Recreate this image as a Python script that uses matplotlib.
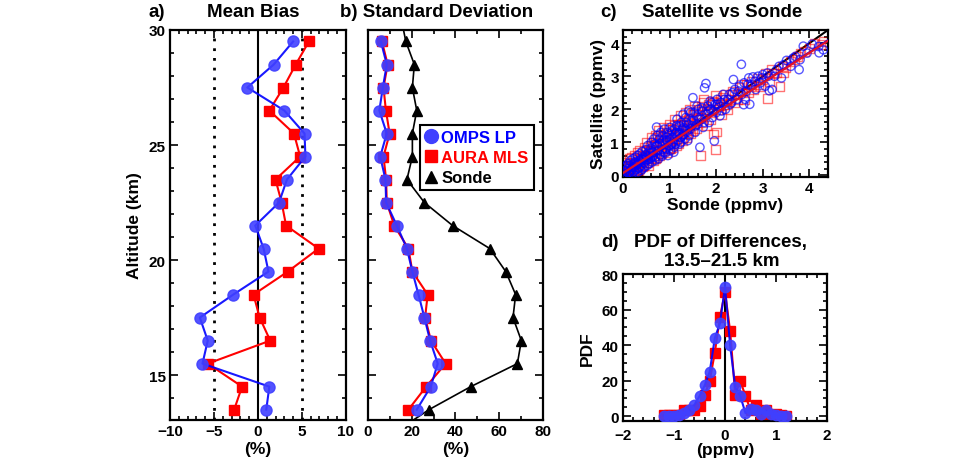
import matplotlib
matplotlib.use("Agg")
import matplotlib.pyplot as plt
from matplotlib.lines import Line2D
from matplotlib.ticker import MultipleLocator

plt.rcParams["font.family"] = ["Liberation Sans", "DejaVu Sans"]
plt.rcParams["font.weight"] = "bold"
plt.rcParams["axes.labelweight"] = "bold"

# profile panels (a, b)
altitude = [29.5, 28.5, 27.5, 26.5, 25.5, 24.5, 23.5, 22.5, 21.5,
            20.5, 19.5, 18.5, 17.5, 16.5, 15.5, 14.5, 13.5]
omps_bias = [4.0, 1.8, -1.2, 3.0, 5.3, 5.4, 3.3, 2.4, -0.3,
             0.65, 1.2, -2.8, -6.6, -5.7, -6.3, 1.3, 0.95]
mls_bias = [5.8, 4.3, 2.9, 1.3, 4.1, 4.8, 2.0, 2.7, 3.2,
            6.9, 3.4, -0.5, 0.2, 1.4, -5.7, -1.8, -2.7]
omps_sd = [5.9, 8.6, 6.8, 5.2, 8.6, 5.6, 8.0, 8.3, 13.2,
           17.8, 20.3, 23.1, 25.8, 28.4, 31.9, 28.7, 22.3]
mls_sd = [6.4, 9.0, 7.1, 8.2, 9.9, 7.1, 8.3, 8.6, 12.0,
          18.5, 20.3, 27.3, 26.1, 28.8, 35.5, 26.6, 18.5]
sonde_altitude = [30.5] + altitude + [12.5]
sonde_sd = [15.2, 17.3, 21.2, 20.3, 22.3, 20.3, 20.3, 17.8, 25.8, 38.7,
            55.7, 63.0, 67.5, 66.3, 70.1, 68.3, 47.0, 27.9, 12.1]

# scatter panel (c): (sonde, satellite) pairs in ppmv
omps_points = [
    (0.02, 0.05), (0.05, 0.12), (0.08, 0.02), (0.1, 0.2), (0.12, 0.08), (0.15, 0.3), (0.18, 0.15),
    (0.2, 0.05), (0.22, 0.25), (0.25, 0.4), (0.28, 0.18), (0.3, 0.32), (0.32, 0.1), (0.35, 0.45),
    (0.38, 0.28), (0.4, 0.5), (0.42, 0.2), (0.45, 0.38), (0.48, 0.62), (0.5, 0.45), (0.52, 0.3),
    (0.55, 0.7), (0.58, 0.5), (0.6, 0.82), (0.62, 0.4), (0.65, 0.6), (0.68, 0.95), (0.7, 0.55),
    (0.72, 1.46), (0.75, 0.75), (0.78, 1.1), (0.8, 0.62), (0.82, 0.9), (0.85, 1.2), (0.88, 0.7),
    (0.9, 1.0), (0.92, 0.8), (0.95, 1.3), (0.98, 0.9), (1.0, 1.1), (1.02, 0.75), (1.05, 1.35),
    (1.08, 1.0), (1.1, 0.85), (1.12, 1.25), (1.15, 1.5), (1.18, 1.05), (1.2, 1.3), (1.22, 0.95),
    (1.25, 1.6), (1.28, 1.2), (1.3, 1.45), (1.33, 1.1), (1.35, 1.75), (1.38, 1.35), (1.4, 1.55),
    (1.42, 1.2), (1.45, 1.9), (1.48, 1.5), (1.5, 2.35), (1.52, 1.65), (1.55, 1.3), (1.58, 1.8),
    (1.6, 1.55), (1.62, 2.0), (1.65, 0.85), (1.68, 1.7), (1.7, 1.95), (1.72, 1.45), (1.75, 2.65),
    (1.78, 2.78), (1.8, 1.85), (1.82, 2.1), (1.85, 1.6), (1.88, 2.0), (1.9, 2.2), (1.92, 1.75),
    (1.96, 1.04), (1.98, 2.15), (2.0, 1.9), (2.02, 2.3), (2.05, 2.05), (2.08, 1.8), (2.1, 2.2),
    (2.15, 2.45), (2.2, 2.0), (2.25, 2.3), (2.3, 2.15), (2.35, 2.5), (2.37, 2.9), (2.4, 2.6),
    (2.45, 2.3), (2.5, 2.7), (2.54, 3.36), (2.55, 2.45), (2.59, 2.14), (2.6, 2.8), (2.65, 2.55),
    (2.7, 2.95), (2.72, 2.15), (2.75, 2.7), (2.79, 2.98), (2.85, 2.6), (2.9, 3.0), (2.95, 2.8),
    (3.0, 3.05), (3.05, 2.7), (3.1, 3.1), (3.14, 2.56), (3.2, 2.6), (3.25, 3.0), (3.3, 3.2),
    (3.35, 3.3), (3.4, 2.95), (3.45, 3.35), (3.51, 3.48), (3.6, 3.3), (3.65, 3.55), (3.7, 3.6),
    (3.78, 3.2), (3.8, 3.5), (3.87, 3.91), (3.95, 3.7), (4.06, 3.97), (4.2, 3.9), (4.21, 3.71),
    (4.3, 3.8), (0.06, 0.15), (0.14, 0.1), (0.24, 0.35), (0.34, 0.22), (0.44, 0.55), (0.54, 0.48),
    (0.64, 0.7), (0.74, 0.9), (0.84, 0.78), (0.94, 1.05), (1.04, 0.95), (1.14, 1.3), (1.24, 1.15),
    (1.34, 1.4), (0.03, 0.25), (0.07, 0.3), (0.11, 0.35), (0.13, 0.02), (0.16, 0.45), (0.19, 0.22),
    (0.21, 0.5), (0.24, 0.12), (0.27, 0.55), (0.29, 0.38), (0.31, 0.6), (0.33, 0.22), (0.36, 0.65),
    (0.39, 0.15), (0.41, 0.72), (0.43, 0.48), (0.46, 0.25), (0.49, 0.78), (0.51, 0.58), (0.53, 0.9),
    (0.56, 0.35), (0.59, 0.68), (0.61, 1.0), (0.63, 0.55), (0.66, 1.1), (0.69, 0.45), (0.71, 0.88),
    (0.73, 1.2), (0.76, 0.5), (0.79, 0.95), (0.81, 1.3), (0.83, 0.58), (0.86, 1.05), (0.89, 1.4),
    (0.91, 0.68), (0.93, 1.15), (0.96, 0.6), (0.99, 1.25), (1.01, 1.45), (1.03, 0.9), (1.06, 1.15),
    (1.09, 0.7), (1.11, 1.4), (1.13, 0.95), (1.16, 1.7), (1.19, 1.25), (1.21, 1.5), (1.24, 1.0),
    (1.27, 1.4), (1.29, 1.85), (1.31, 1.25), (1.36, 1.6), (1.39, 1.05), (1.41, 1.95), (1.44, 1.4),
    (1.47, 1.65), (1.53, 1.9), (1.56, 1.5), (1.59, 2.1), (1.63, 1.7), (1.69, 2.05), (1.74, 1.6),
    (1.83, 1.95), (1.87, 2.25), (1.93, 1.95), (2.03, 2.15), (2.12, 1.95), (2.18, 2.3), (2.28, 2.45),
    (2.33, 2.2), (2.48, 2.55), (2.62, 2.3), (2.68, 2.75), (2.83, 2.85), (2.98, 2.95), (3.12, 3.0),
]
mls_points = [
    (0.03, 0.08), (0.06, 0.2), (0.09, 0.05), (0.12, 0.15), (0.14, 0.35), (0.17, 0.1), (0.2, 0.25),
    (0.23, 0.4), (0.26, 0.12), (0.29, 0.3), (0.32, 0.5), (0.35, 0.2), (0.38, 0.4), (0.41, 0.6),
    (0.44, 0.3), (0.47, 0.5), (0.5, 0.75), (0.53, 0.4), (0.56, 0.6), (0.59, 0.9), (0.62, 0.5),
    (0.65, 1.0), (0.68, 0.7), (0.71, 0.55), (0.74, 1.15), (0.77, 0.8), (0.8, 1.05), (0.83, 0.65),
    (0.86, 1.25), (0.89, 0.9), (0.92, 1.1), (0.95, 0.7), (0.98, 1.4), (1.01, 1.0), (1.04, 1.2),
    (1.07, 0.85), (1.1, 1.5), (1.13, 1.1), (1.16, 1.3), (1.19, 0.95), (1.22, 1.55), (1.25, 1.25),
    (1.28, 1.05), (1.31, 1.65), (1.34, 1.35), (1.37, 1.15), (1.4, 1.7), (1.43, 1.45), (1.46, 1.25),
    (1.49, 1.85), (1.52, 1.55), (1.55, 1.95), (1.58, 1.4), (1.61, 1.75), (1.66, 0.61), (1.68, 2.1),
    (1.7, 1.6), (1.73, 2.2), (1.76, 1.85), (1.8, 1.5), (1.84, 2.0), (1.88, 1.7), (1.92, 2.25),
    (1.95, 1.25), (1.98, 0.78), (1.99, 2.42), (2.01, 1.31), (2.04, 2.0), (2.08, 2.3), (2.12, 1.85),
    (2.16, 2.15), (2.2, 2.45), (2.25, 2.0), (2.3, 2.3), (2.35, 2.55), (2.4, 2.2), (2.45, 2.45),
    (2.5, 2.65), (2.57, 2.52), (2.6, 2.3), (2.65, 2.75), (2.7, 2.5), (2.75, 2.85), (2.8, 2.6),
    (2.88, 2.95), (2.95, 2.7), (3.0, 2.9), (3.05, 3.1), (3.1, 2.32), (3.15, 2.85), (3.23, 3.08),
    (3.3, 3.1), (3.37, 2.68), (3.42, 3.3), (3.5, 3.25), (3.6, 3.45), (3.68, 3.5), (3.75, 3.6),
    (3.8, 3.7), (3.9, 3.75), (4.0, 3.85), (4.1, 4.0), (4.25, 3.95), (4.3, 4.05), (0.1, 0.02),
    (0.2, 0.28), (0.3, 0.18), (0.4, 0.45), (0.5, 0.38), (0.6, 0.72), (0.7, 0.52), (0.85, 0.98),
    (1.0, 0.82), (0.02, 0.3), (0.05, 0.02), (0.08, 0.38), (0.11, 0.28), (0.13, 0.5), (0.16, 0.22),
    (0.19, 0.55), (0.22, 0.05), (0.24, 0.6), (0.27, 0.35), (0.3, 0.7), (0.33, 0.15), (0.36, 0.75),
    (0.39, 0.55), (0.42, 0.25), (0.45, 0.85), (0.48, 0.6), (0.51, 1.0), (0.54, 0.3), (0.57, 0.8),
    (0.6, 1.15), (0.63, 0.75), (0.66, 0.45), (0.69, 1.2), (0.72, 0.9), (0.75, 1.35), (0.78, 0.6),
    (0.81, 1.2), (0.84, 0.95), (0.87, 1.45), (0.9, 0.75), (0.93, 1.3), (0.96, 1.05), (0.99, 1.55),
    (1.02, 0.8), (1.05, 1.4), (1.08, 1.2), (1.11, 1.7), (1.14, 0.9), (1.17, 1.55), (1.2, 1.35),
    (1.23, 1.8), (1.26, 1.1), (1.3, 1.5), (1.33, 1.9), (1.36, 1.5), (1.39, 1.25), (1.42, 2.0),
    (1.45, 1.6), (1.5, 1.35), (1.54, 2.1), (1.57, 1.7), (1.62, 2.0), (1.67, 1.75), (1.72, 2.3),
    (1.78, 1.95), (1.83, 2.15), (1.9, 1.9), (1.97, 2.2), (2.06, 2.1), (2.14, 2.35), (2.22, 2.15),
    (2.32, 2.45), (2.47, 2.3), (2.55, 2.75), (2.73, 2.7), (2.9, 2.75), (3.18, 3.2), (3.45, 3.1),
]
omps_fit = (0.05, 0.92)  # intercept, slope
mls_fit = (0.07, 0.91)
fit_range = [0.0, 4.4]

# PDF panel (d)
diff_bins = [-1.2, -1.1, -1.0, -0.9, -0.8, -0.7, -0.6, -0.5, -0.4, -0.3, -0.2, -0.1, 0.0,
             0.1, 0.2, 0.3, 0.4, 0.5, 0.6, 0.7, 0.8, 0.9, 1.0, 1.1, 1.2]
omps_pdf = [0.4, 0.4, 0.2, 0.7, 1.8, 3.5, 6.4, 11.3, 17.3, 25.1, 44.0, 52.2, 72.9,
            39.8, 16.4, 11.3, 1.8, 4.2, 3.3, 1.3, 3.3, 1.3, 0.7, 0.4, 0.4]
mls_pdf = [0.5, 0.9, 0.5, 0.9, 3.3, 3.3, 3.3, 5.8, 11.8, 20.0, 35.8, 55.8, 70.0,
           47.8, 12.2, 20.0, 11.3, 3.6, 6.4, 1.3, 3.3, 0.9, 1.3, 0.5, 0.4]

BLUE = "#0000ff"
BLUE_MARK = "#4040ff"
RED = "#ff0000"

fig = plt.figure(figsize=(9.6, 4.64), dpi=100)
ax_a = fig.add_axes([0.177, 0.0927, 0.1833, 0.8405])
ax_b = fig.add_axes([0.3833, 0.0927, 0.1823, 0.8405])
ax_c = fig.add_axes([0.649, 0.6164, 0.2135, 0.3168])
ax_d = fig.add_axes([0.649, 0.0912, 0.2125, 0.3161])


def style_axes(ax, major_x, minor_x, major_y, minor_y):
    ax.xaxis.set_major_locator(MultipleLocator(major_x))
    ax.xaxis.set_minor_locator(MultipleLocator(minor_x))
    ax.yaxis.set_major_locator(MultipleLocator(major_y))
    ax.yaxis.set_minor_locator(MultipleLocator(minor_y))
    ax.tick_params(which="both", direction="in", top=True, right=True, labelsize=11, width=1.2)
    ax.tick_params(which="major", length=6, pad=3)
    ax.tick_params(which="minor", length=3)
    for spine in ax.spines.values():
        spine.set_linewidth(1.6)


# a) mean bias
ax_a.axvline(0, color="black", lw=1.5, zorder=1)
for xv in (-5, 5):
    ax_a.axvline(xv, color="black", lw=2, ls=(0, (1, 2.5)), zorder=1)
ax_a.plot(mls_bias, altitude, color=RED, lw=1.5, marker="s", ms=7.5,
          mfc=RED, mec=RED, zorder=2)
ax_a.plot(omps_bias, altitude, color=BLUE, lw=1.5, marker="o", ms=8,
          mfc=BLUE_MARK, mec=BLUE_MARK, alpha=0.9, zorder=3)
ax_a.set_xlim(-10, 10)
ax_a.set_ylim(13.05, 30)
style_axes(ax_a, 5, 1, 5, 1)
ax_a.set_xlabel("(%)", fontsize=12.5, labelpad=2)
ax_a.set_ylabel("Altitude (km)", fontsize=12.5, labelpad=5)

# b) standard deviation
ax_b.plot(sonde_sd, sonde_altitude, color="black", lw=1.2, marker="^", ms=7, zorder=2)
ax_b.plot(mls_sd, altitude, color=RED, lw=1.5, marker="s", ms=7.5,
          mfc=RED, mec=RED, zorder=3)
ax_b.plot(omps_sd, altitude, color=BLUE, lw=1.5, marker="o", ms=8,
          mfc=BLUE_MARK, mec=BLUE_MARK, alpha=0.9, zorder=4)
ax_b.set_xlim(0, 80)
ax_b.set_ylim(13.05, 30)
style_axes(ax_b, 20, 10, 5, 1)
ax_b.set_yticklabels([])
ax_b.set_xlabel("(%)", fontsize=12.5, labelpad=2)
handles = [
    Line2D([], [], ls="none", marker="o", ms=10, mfc=BLUE_MARK, mec=BLUE_MARK),
    Line2D([], [], ls="none", marker="s", ms=9, mfc=RED, mec=RED),
    Line2D([], [], ls="none", marker="^", ms=9, mfc="black", mec="black"),
]
leg = ax_b.legend(handles, ["OMPS LP", "AURA MLS", "Sonde"], loc="upper left",
                  bbox_to_anchor=(0.3, 0.757), fancybox=False, framealpha=1,
                  edgecolor="black", handlelength=0.7, handletextpad=0.25,
                  borderpad=0.3, labelspacing=0.32, borderaxespad=0,
                  prop={"size": 12, "weight": "bold"},
                  labelcolor=[BLUE, RED, "black"])
leg.get_frame().set_linewidth(1.5)

# c) satellite vs sonde
ax_c.plot(fit_range, fit_range, color="black", lw=1.5, zorder=1)
ax_c.scatter([p[0] for p in mls_points], [p[1] for p in mls_points], marker="s", s=40,
             facecolors="none", edgecolors=RED, linewidths=1.0, alpha=0.55, zorder=2)
ax_c.scatter([p[0] for p in omps_points], [p[1] for p in omps_points], marker="o", s=36,
             facecolors="none", edgecolors=BLUE, linewidths=1.0, alpha=0.65, zorder=3)
ax_c.plot(fit_range, [omps_fit[0] + omps_fit[1] * v for v in fit_range],
          color=BLUE, lw=1.3, zorder=5)
ax_c.plot(fit_range, [mls_fit[0] + mls_fit[1] * v for v in fit_range],
          color="#e0102a", lw=1.6, zorder=6)
ax_c.set_xlim(0, 4.4)
ax_c.set_ylim(-0.05, 4.4)
style_axes(ax_c, 1, 0.2, 1, 0.2)
ax_c.set_xlabel("Sonde (ppmv)", fontsize=12.5, labelpad=1)
ax_c.set_ylabel("Satellite (ppmv)", fontsize=12.5, labelpad=3)

# d) PDF of differences
ax_d.axvline(0, color="black", lw=1.5, zorder=1)
ax_d.plot(diff_bins, mls_pdf, color=RED, lw=1.5, marker="s", ms=7,
          mfc=RED, mec=RED, zorder=2)
ax_d.plot(diff_bins, omps_pdf, color=BLUE, lw=1.5, marker="o", ms=7.5,
          mfc=BLUE_MARK, mec=BLUE_MARK, alpha=0.9, zorder=3)
ax_d.set_xlim(-2, 2)
ax_d.set_ylim(-2.5, 80)
style_axes(ax_d, 1, 0.2, 20, 5)
ax_d.tick_params(axis="x", which="major", pad=5)
ax_d.set_xlabel("(ppmv)", fontsize=12.5, labelpad=0)
ax_d.set_ylabel("PDF", fontsize=12.5, labelpad=5)

# titles
TITLE = 13.5
fig.text(0.163, 0.972, "a)", fontsize=TITLE, ha="center", va="center")
fig.text(0.264, 0.972, "Mean Bias", fontsize=TITLE, ha="center", va="center")
fig.text(0.455, 0.972, "b) Standard Deviation", fontsize=TITLE, ha="center", va="center")
fig.text(0.634, 0.972, "c)", fontsize=TITLE, ha="center", va="center")
fig.text(0.752, 0.972, "Satellite vs Sonde", fontsize=TITLE, ha="center", va="center")
fig.text(0.635, 0.478, "d)", fontsize=TITLE, ha="center", va="center")
fig.text(0.751, 0.478, "PDF of Differences,", fontsize=TITLE, ha="center", va="center")
fig.text(0.752, 0.437, "13.5\u201321.5 km", fontsize=TITLE, ha="center", va="center")

fig.savefig("out.png", dpi=100, facecolor="white")
